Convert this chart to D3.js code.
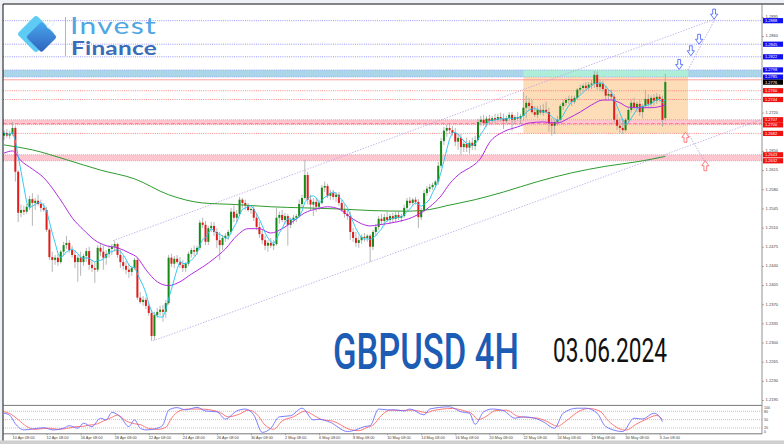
<!DOCTYPE html>
<html><head><meta charset="utf-8">
<script src="https://cdn.jsdelivr.net/npm/d3@7"></script>
<style>html,body{margin:0;padding:0;background:#fff;}svg{display:block;}</style>
</head><body>
<svg id="c" width="784" height="444"></svg>
<script>
// ---------- DATA (GBPUSD 4H) ----------
const opens = [
1.2678,1.2683,1.2678,1.2681,1.2692,1.2612,1.2537,1.2542,1.2539,1.2548,
1.2562,1.2555,1.2559,1.2553,1.2546,1.2542,1.2506,1.2456,1.2451,1.2455,
1.2447,1.2466,1.2478,1.2482,1.2469,1.2460,1.2447,1.2455,1.2447,1.2458,
1.2467,1.2442,1.2436,1.2433,1.2473,1.2466,1.2455,1.2462,1.2471,1.2475,
1.2480,1.2460,1.2447,1.2440,1.2433,1.2429,1.2436,1.2451,1.2382,1.2374,
1.2378,1.2367,1.2354,1.2312,1.2350,1.2356,1.2360,1.2356,1.2372,1.2455,
1.2444,1.2453,1.2447,1.2442,1.2436,1.2444,1.2462,1.2469,1.2466,1.2473,
1.2519,1.2515,1.2484,1.2509,1.2513,1.2502,1.2487,1.2478,1.2491,1.2495,
1.2502,1.2539,1.2528,1.2535,1.2561,1.2555,1.2550,1.2542,1.2544,1.2528,
1.2511,1.2498,1.2487,1.2477,1.2482,1.2477,1.2480,1.2528,1.2533,1.2524,
1.2531,1.2515,1.2524,1.2528,1.2531,1.2553,1.2564,1.2606,1.2561,1.2552,
1.2557,1.2548,1.2555,1.2583,1.2586,1.2568,1.2573,1.2566,1.2570,1.2555,
1.2542,1.2535,1.2531,1.2502,1.2491,1.2482,1.2487,1.2493,1.2491,1.2495,
1.2475,1.2502,1.2511,1.2526,1.2522,1.2529,1.2524,1.2531,1.2526,1.2533,
1.2528,1.2531,1.2546,1.2559,1.2555,1.2561,1.2557,1.2529,1.2542,1.2573,
1.2581,1.2584,1.2588,1.2594,1.2623,1.2668,1.2687,1.2692,1.2688,1.2683,
1.2667,1.2674,1.2657,1.2663,1.2656,1.2665,1.2659,1.2670,1.2703,1.2707,
1.2701,1.2709,1.2705,1.2710,1.2707,1.2712,1.2709,1.2705,1.2710,1.2716,
1.2707,1.2712,1.2709,1.2714,1.2729,1.2738,1.2732,1.2721,1.2716,1.2725,
1.2720,1.2725,1.2721,1.2700,1.2696,1.2703,1.2707,1.2732,1.2738,1.2743,
1.2745,1.2740,1.2747,1.2762,1.2765,1.2769,1.2765,1.2771,1.2773,1.2789,
1.2767,1.2773,1.2763,1.2751,1.2754,1.2749,1.2707,1.2696,1.2692,1.2688,
1.2707,1.2725,1.2738,1.2730,1.2736,1.2721,1.2732,1.2745,1.2736,1.2747,
1.2742,1.2749,1.2745,1.2710];
const highs = [
1.2688,1.2690,1.2687,1.2703,1.2696,1.2615,1.2552,1.2550,1.2553,1.2568,
1.2573,1.2564,1.2570,1.2561,1.2555,1.2548,1.2509,1.2466,1.2460,1.2462,
1.2469,1.2484,1.2495,1.2487,1.2477,1.2469,1.2460,1.2466,1.2462,1.2473,
1.2475,1.2451,1.2447,1.2478,1.2482,1.2477,1.2469,1.2477,1.2480,1.2486,
1.2482,1.2469,1.2458,1.2449,1.2444,1.2440,1.2455,1.2455,1.2392,1.2385,
1.2382,1.2372,1.2360,1.2356,1.2363,1.2367,1.2369,1.2378,1.2460,1.2462,
1.2458,1.2460,1.2456,1.2451,1.2447,1.2466,1.2473,1.2477,1.2477,1.2524,
1.2528,1.2522,1.2513,1.2520,1.2520,1.2509,1.2502,1.2497,1.2500,1.2506,
1.2546,1.2550,1.2542,1.2566,1.2564,1.2561,1.2555,1.2550,1.2550,1.2535,
1.2520,1.2506,1.2495,1.2487,1.2491,1.2487,1.2546,1.2539,1.2542,1.2537,
1.2535,1.2528,1.2533,1.2535,1.2561,1.2570,1.2634,1.2612,1.2570,1.2564,
1.2564,1.2561,1.2588,1.2594,1.2590,1.2579,1.2579,1.2575,1.2575,1.2561,
1.2552,1.2542,1.2539,1.2509,1.2502,1.2495,1.2498,1.2500,1.2498,1.2498,
1.2506,1.2517,1.2531,1.2535,1.2535,1.2539,1.2535,1.2537,1.2539,1.2539,
1.2535,1.2552,1.2564,1.2566,1.2564,1.2566,1.2562,1.2546,1.2579,1.2586,
1.2590,1.2592,1.2597,1.2630,1.2674,1.2694,1.2698,1.2700,1.2696,1.2692,
1.2681,1.2681,1.2670,1.2674,1.2670,1.2674,1.2678,1.2709,1.2714,1.2716,
1.2714,1.2716,1.2714,1.2718,1.2718,1.2720,1.2718,1.2714,1.2721,1.2721,
1.2716,1.2721,1.2718,1.2758,1.2751,1.2747,1.2743,1.2732,1.2732,1.2734,
1.2736,1.2740,1.2729,1.2710,1.2707,1.2714,1.2736,1.2743,1.2747,1.2751,
1.2751,1.2751,1.2765,1.2771,1.2773,1.2776,1.2776,1.2780,1.2796,1.2795,
1.2780,1.2778,1.2769,1.2762,1.2762,1.2754,1.2718,1.2710,1.2707,1.2710,
1.2729,1.2743,1.2747,1.2740,1.2743,1.2736,1.2762,1.2754,1.2752,1.2754,
1.2756,1.2754,1.2751,1.2791];
const lows = [
1.2670,1.2674,1.2672,1.2678,1.2594,1.2520,1.2529,1.2533,1.2535,1.2542,
1.2513,1.2542,1.2550,1.2539,1.2539,1.2502,1.2451,1.2429,1.2442,1.2440,
1.2444,1.2458,1.2471,1.2464,1.2455,1.2436,1.2411,1.2422,1.2440,1.2447,
1.2433,1.2429,1.2409,1.2429,1.2458,1.2433,1.2442,1.2455,1.2460,1.2466,
1.2455,1.2436,1.2433,1.2425,1.2418,1.2422,1.2433,1.2378,1.2371,1.2367,
1.2361,1.2349,1.2303,1.2305,1.2345,1.2349,1.2338,1.2345,1.2369,1.2438,
1.2436,1.2444,1.2436,1.2429,1.2429,1.2440,1.2455,1.2458,1.2460,1.2469,
1.2509,1.2478,1.2478,1.2502,1.2495,1.2473,1.2451,1.2469,1.2484,1.2487,
1.2498,1.2520,1.2520,1.2531,1.2546,1.2542,1.2539,1.2535,1.2522,1.2506,
1.2491,1.2480,1.2469,1.2466,1.2473,1.2469,1.2477,1.2517,1.2520,1.2517,
1.2477,1.2509,1.2517,1.2520,1.2528,1.2546,1.2561,1.2552,1.2542,1.2531,
1.2539,1.2542,1.2552,1.2575,1.2564,1.2561,1.2561,1.2557,1.2550,1.2539,
1.2528,1.2524,1.2487,1.2484,1.2475,1.2473,1.2480,1.2484,1.2484,1.2447,
1.2469,1.2495,1.2506,1.2517,1.2513,1.2520,1.2517,1.2520,1.2520,1.2524,
1.2520,1.2528,1.2542,1.2550,1.2550,1.2552,1.2509,1.2524,1.2539,1.2568,
1.2575,1.2579,1.2583,1.2588,1.2619,1.2661,1.2676,1.2681,1.2678,1.2659,
1.2652,1.2643,1.2648,1.2648,1.2645,1.2652,1.2652,1.2667,1.2696,1.2696,
1.2694,1.2698,1.2700,1.2701,1.2703,1.2703,1.2690,1.2700,1.2705,1.2687,
1.2700,1.2705,1.2700,1.2705,1.2710,1.2725,1.2718,1.2712,1.2710,1.2716,
1.2714,1.2718,1.2685,1.2678,1.2681,1.2696,1.2703,1.2725,1.2732,1.2736,
1.2732,1.2736,1.2743,1.2754,1.2758,1.2762,1.2760,1.2763,1.2765,1.2762,
1.2760,1.2758,1.2743,1.2743,1.2743,1.2700,1.2688,1.2683,1.2681,1.2685,
1.2703,1.2720,1.2725,1.2721,1.2714,1.2710,1.2729,1.2729,1.2729,1.2732,
1.2736,1.2740,1.2694,1.2705];
const closes = [
1.2683,1.2678,1.2681,1.2692,1.2612,1.2537,1.2542,1.2539,1.2548,1.2562,
1.2555,1.2559,1.2553,1.2546,1.2542,1.2506,1.2456,1.2451,1.2455,1.2447,
1.2466,1.2478,1.2482,1.2469,1.2460,1.2447,1.2455,1.2447,1.2458,1.2467,
1.2442,1.2436,1.2433,1.2473,1.2466,1.2455,1.2462,1.2471,1.2475,1.2480,
1.2460,1.2447,1.2440,1.2433,1.2429,1.2436,1.2451,1.2382,1.2374,1.2378,
1.2367,1.2354,1.2312,1.2350,1.2356,1.2360,1.2356,1.2372,1.2455,1.2444,
1.2453,1.2447,1.2442,1.2436,1.2444,1.2462,1.2469,1.2466,1.2473,1.2519,
1.2515,1.2484,1.2509,1.2513,1.2502,1.2487,1.2478,1.2491,1.2495,1.2502,
1.2539,1.2528,1.2535,1.2561,1.2555,1.2550,1.2542,1.2544,1.2528,1.2511,
1.2498,1.2487,1.2477,1.2482,1.2477,1.2480,1.2528,1.2533,1.2524,1.2531,
1.2515,1.2524,1.2528,1.2531,1.2553,1.2564,1.2606,1.2561,1.2552,1.2557,
1.2548,1.2555,1.2583,1.2586,1.2568,1.2573,1.2566,1.2570,1.2555,1.2542,
1.2535,1.2531,1.2502,1.2491,1.2482,1.2487,1.2493,1.2491,1.2495,1.2475,
1.2502,1.2511,1.2526,1.2522,1.2529,1.2524,1.2531,1.2526,1.2533,1.2528,
1.2531,1.2546,1.2559,1.2555,1.2561,1.2557,1.2529,1.2542,1.2573,1.2581,
1.2584,1.2588,1.2594,1.2623,1.2668,1.2687,1.2692,1.2688,1.2683,1.2667,
1.2674,1.2657,1.2663,1.2656,1.2665,1.2659,1.2670,1.2703,1.2707,1.2701,
1.2709,1.2705,1.2710,1.2707,1.2712,1.2709,1.2705,1.2710,1.2716,1.2707,
1.2712,1.2709,1.2714,1.2729,1.2738,1.2732,1.2721,1.2716,1.2725,1.2720,
1.2725,1.2721,1.2700,1.2696,1.2703,1.2707,1.2732,1.2738,1.2743,1.2745,
1.2740,1.2747,1.2762,1.2765,1.2769,1.2765,1.2771,1.2773,1.2789,1.2767,
1.2773,1.2763,1.2751,1.2754,1.2749,1.2707,1.2696,1.2692,1.2688,1.2707,
1.2725,1.2738,1.2730,1.2736,1.2721,1.2732,1.2745,1.2736,1.2747,1.2742,
1.2749,1.2745,1.2707,1.2776];

// slow moving average (purple) and 200 MA (green): [bar, price]
const maSlow = [[0,1.2646],[3,1.2650],[6,1.2632],[10,1.2617],[14,1.2601],[18,1.2575],[21,1.2552],[24,1.2528],[28,1.2506],[32,1.2487],[36,1.2477],[40,1.2473],[44,1.2464],[47,1.2455],[50,1.2433],[54,1.2411],[58,1.2404],[62,1.2411],[66,1.2425],[70,1.2438],[74,1.2453],[78,1.2471],[82,1.2495],[86,1.2508],[90,1.2508],[94,1.2500],[98,1.2508],[102,1.2522],[106,1.2537],[110,1.2544],[114,1.2548],[118,1.2544],[122,1.2529],[126,1.2517],[129,1.2513],[132,1.2515],[138,1.2520],[144,1.2529],[150,1.2548],[154,1.2568],[157,1.2590],[161,1.2610],[164,1.2619],[168,1.2637],[171,1.2665],[176,1.2685],[181,1.2694],[185,1.2701],[190,1.2703],[195,1.2701],[199,1.2710],[203,1.2721],[207,1.2734],[211,1.2743],[214,1.2743],[217,1.2738],[220,1.2730],[224,1.2729],[228,1.2729],[233,1.2734]];
const ma200 = [[0,1.2661],[10,1.2652],[22,1.2634],[34,1.2615],[46,1.2599],[58,1.2570],[70,1.2555],[82,1.2552],[94,1.2548],[106,1.2546],[118,1.2544],[130,1.2541],[142,1.2540],[150,1.2543],[156,1.2550],[166,1.2561],[176,1.2575],[188,1.2594],[200,1.2610],[212,1.2622],[224,1.2631],[233,1.2640]];

// stochastic: [bar, value]
const stochMain = [[0,73],[2,66],[4,35],[7,13],[10,16],[14,21],[15,19],[17,13],[21,19],[23,28],[26,19],[28,37],[31,25],[34,55],[36,49],[38,76],[41,60],[44,25],[46,49],[48,19],[50,13],[54,19],[56,31],[58,84],[61,93],[64,85],[68,94],[71,81],[75,78],[78,52],[82,81],[85,88],[88,67],[91,4],[94,19],[97,60],[101,64],[105,91],[109,49],[111,51],[115,40],[121,7],[124,13],[127,25],[129,28],[132,88],[135,85],[138,85],[141,81],[143,88],[148,67],[150,88],[157,96],[161,78],[164,73],[166,33],[169,78],[172,88],[176,82],[180,55],[183,60],[187,55],[190,42],[194,19],[197,73],[202,91],[205,91],[209,73],[212,25],[218,7],[222,55],[225,52],[229,73],[231,60],[232,42]];
const stochSignal = [[0,78],[2,72],[5,50],[8,25],[11,15],[14,18],[16,19],[19,15],[22,18],[25,24],[28,26],[30,30],[33,35],[35,45],[38,58],[40,66],[43,45],[46,35],[48,32],[51,18],[54,15],[57,22],[59,55],[62,82],[65,88],[69,88],[72,86],[76,76],[79,60],[83,70],[86,84],[89,70],[92,30],[95,15],[98,45],[102,60],[106,80],[110,60],[112,50],[116,44],[122,14],[125,10],[128,22],[130,30],[133,65],[136,84],[140,83],[144,84],[149,75],[151,82],[158,90],[162,82],[165,70],[167,50],[170,62],[173,82],[177,84],[181,62],[184,58],[188,55],[191,45],[195,26],[198,45],[203,82],[206,90],[210,80],[213,45],[219,12],[223,35],[226,50],[230,65],[232,50]];
const stochLevels = [80,50,20];
const stochLabels = [100,80,50,20,0];

// axis ticks (values hidden behind price tags in the reference are not listed)
const xTickBars = [3,15,27,39,51,63,75,87,99,111,123,135,147,159,171,183,195,207,219,231];
const xTickLabels = ["10 Apr 08:00","12 Apr 08:00","16 Apr 08:00","18 Apr 08:00","22 Apr 08:00","24 Apr 08:00","26 Apr 08:00","30 Apr 08:00","2 May 08:00","6 May 08:00","8 May 08:00","10 May 08:00","14 May 08:00","16 May 08:00","20 May 08:00","22 May 08:00","24 May 08:00","28 May 08:00","30 May 08:00","3 Jun 08:00"];
const priceTicks = [1.2895,1.2860,1.2720,1.2650,1.2615,1.2580,1.2545,1.2510,1.2475,1.2440,1.2405,1.2370,1.2335,1.2300,1.2265,1.2230,1.2195];

// drawn levels / objects
const blueLevels = [1.2888,1.2845,1.2822];
const blueBand = [1.2798,1.2785];
const redSolid = [1.2780];
const redDotted = [1.2760,1.2744,1.2682];
const pinkBands = [[1.2707,1.2698],[1.2643,1.2632]];
const redDashed = [1.2700];
const blueTags = [1.2888,1.2845,1.2822,1.2798,1.2785];
const redTags = [1.2760,1.2744,1.2707,1.2700,1.2682,1.2643,1.2632];
const bidTag = [1.2776];
const zoneBox = {from:183, to:241, top:1.2785, bottom:1.2682};
const channels = [[[38.4,1.2486],[250.5,1.2891]],[[52.5,1.2303],[267.1,1.2708]]];
const projections = [[[241,1.2798],[250.5,1.2891]],[[241,1.2682],[247,1.2630]]];
const downArrows = [[250.2,1.2900],[244.9,1.2854],[242,1.2833],[237.9,1.2808]];
const upArrows = [[240.1,1.2675],[247.1,1.2623]];
const logoWords = ["Invest","Finance"];
const titleText = "GBPUSD 4H";
const dateText = "03.06.2024";

// ---------- DRAWING ----------
const W=784,H=444;
const pL=3,pR=762,pT=4,pB=405.2,sT=405.7,sB=433.5;
const svg=d3.select("#c");
const x=d3.scaleLinear().domain([0,233]).range([4,665.3]);
const y=d3.scaleLinear().domain([1.2860,1.2195]).range([36,400]);
const ys=d3.scaleLinear().domain([0,100]).range([sB,sT]);
const defs=svg.append("defs");
defs.append("clipPath").attr("id","pp").append("rect").attr("x",pL).attr("y",pT).attr("width",pR-pL).attr("height",pB-pT);
defs.append("clipPath").attr("id","sp").append("rect").attr("x",pL).attr("y",sT).attr("width",pR-pL).attr("height",sB-sT);

svg.append("rect").attr("width",W).attr("height",H).attr("fill","#eef1f5");
svg.append("rect").attr("x",pL).attr("y",pT).attr("width",W-pL).attr("height",440.5-pT).attr("fill","#fff");
svg.append("rect").attr("x",0).attr("y",440.5).attr("width",W).attr("height",H-440.5).attr("fill","#cfcfcf");

const g=svg.append("g").attr("clip-path","url(#pp)");
const hline=(p,col,dash,w)=>g.append("line").attr("x1",pL).attr("x2",pR).attr("y1",y(p)).attr("y2",y(p)).attr("stroke",col).attr("stroke-width",w).attr("stroke-dasharray",dash);

// bands and zone
g.append("rect").attr("x",pL).attr("width",pR-pL).attr("y",y(blueBand[0])).attr("height",y(blueBand[1])-y(blueBand[0])).attr("fill","#abd6ea");
g.append("rect").attr("x",x(zoneBox.from)).attr("width",x(zoneBox.to)-x(zoneBox.from)).attr("y",y(blueBand[0])).attr("height",y(blueBand[1])-y(blueBand[0])).attr("fill","#aeeed8");
g.append("rect").attr("x",x(zoneBox.from)).attr("width",x(zoneBox.to)-x(zoneBox.from)).attr("y",y(zoneBox.top)).attr("height",y(zoneBox.bottom)-y(zoneBox.top)).attr("fill","#fddcb8");
pinkBands.forEach(b=>{
  g.append("rect").attr("x",pL).attr("width",pR-pL).attr("y",y(b[0])).attr("height",y(b[1])-y(b[0])).attr("fill","#ffc6cf");
  hline(b[0],"#ff7d8d","1,1",0.7); hline(b[1],"#ff7d8d","1,1",0.7);
});
blueLevels.forEach(p=>hline(p,"#7a7aff","1,1.2",0.8));
blueBand.forEach(p=>hline(p,"#8a8aff","1,1.2",0.6));
redSolid.forEach(p=>hline(p,"#ff9494","none",0.9));
redDotted.forEach(p=>hline(p,"#ff6b6b","1,1.2",0.8));
redDashed.forEach(p=>hline(p,"#ff6f80","4,2",0.8));

// channel & projection lines
const seg=d3.line().x(d=>x(d[0])).y(d=>y(d[1]));
channels.forEach(c=>g.append("path").attr("d",seg(c)).attr("fill","none").attr("stroke","#b8a0e6").attr("stroke-width",0.8).attr("stroke-dasharray","1.4,1.4"));
projections.forEach(c=>g.append("path").attr("d",seg(c)).attr("fill","none").attr("stroke","#a898d8").attr("stroke-width",0.8).attr("stroke-dasharray","1.4,1.4"));

// candles
const idx=d3.range(closes.length);
const cg=g.append("g");
cg.selectAll("line.w").data(idx).join("line").attr("class","w")
  .attr("x1",i=>x(i)).attr("x2",i=>x(i)).attr("y1",i=>y(highs[i])).attr("y2",i=>y(lows[i]))
  .attr("stroke","#a3a3a3").attr("stroke-width",0.8);
cg.selectAll("rect.b").data(idx).join("rect").attr("class","b")
  .attr("x",i=>x(i)-1).attr("width",2)
  .attr("y",i=>y(Math.max(opens[i],closes[i])))
  .attr("height",i=>Math.max(0.7,Math.abs(y(opens[i])-y(closes[i]))))
  .attr("fill",i=>closes[i]>=opens[i]?"#168a16":"#e11c1c");

// moving averages
const maFast=closes.map((c,i)=>d3.mean(closes.slice(Math.max(0,i-4),i+1)));
const mline=d3.line().x(d=>x(d[0])).y(d=>y(d[1])).curve(d3.curveMonotoneX);
g.append("path").attr("d",mline(ma200)).attr("fill","none").attr("stroke","#2e9a2e").attr("stroke-width",1);
g.append("path").attr("d",mline(maSlow)).attr("fill","none").attr("stroke","#b02be0").attr("stroke-width",1);
g.append("path").attr("d",d3.line().x((d,i)=>x(i)).y(d=>y(d))(maFast)).attr("fill","none").attr("stroke","#22c3f2").attr("stroke-width",0.9);

// arrows
const downPath=(cx,cy)=>`M${cx-1.4},${cy-5}L${cx+1.4},${cy-5}L${cx+1.4},${cy}L${cx+3.6},${cy}L${cx},${cy+5}L${cx-3.6},${cy}L${cx-1.4},${cy}Z`;
const upPath=(cx,cy)=>`M${cx-1.4},${cy+5}L${cx+1.4},${cy+5}L${cx+1.4},${cy}L${cx+3.6},${cy}L${cx},${cy-5}L${cx-3.6},${cy}L${cx-1.4},${cy}Z`;
downArrows.forEach(a=>g.append("path").attr("d",downPath(x(a[0]),y(a[1]))).attr("fill","#fff").attr("stroke","#3f5bff").attr("stroke-width",0.8));
upArrows.forEach(a=>g.append("path").attr("d",upPath(x(a[0]),y(a[1]))).attr("fill","#fff").attr("stroke","#ff5c5c").attr("stroke-width",0.8));

// stochastic pane
const sg=svg.append("g").attr("clip-path","url(#sp)");
stochLevels.forEach(v=>sg.append("line").attr("x1",pL).attr("x2",pR).attr("y1",ys(v)).attr("y2",ys(v)).attr("stroke","#9a9a9a").attr("stroke-width",0.6).attr("stroke-dasharray","1,1"));
const sline=d3.line().x(d=>x(d[0])).y(d=>ys(d[1])).curve(d3.curveMonotoneX);
sg.append("path").attr("d",sline(stochSignal)).attr("fill","none").attr("stroke","#ff6a6a").attr("stroke-width",0.9);
sg.append("path").attr("d",sline(stochMain)).attr("fill","none").attr("stroke","#6f6fff").attr("stroke-width",0.9);

// frame lines
svg.append("line").attr("x1",pL).attr("x2",W).attr("y1",pT).attr("y2",pT).attr("stroke","#111").attr("stroke-width",1);
svg.append("line").attr("x1",pL).attr("x2",pL).attr("y1",pT).attr("y2",440.5).attr("stroke","#111").attr("stroke-width",1);
svg.append("line").attr("x1",pL).attr("x2",pR).attr("y1",405.4).attr("y2",405.4).attr("stroke","#555").attr("stroke-width",0.8);
svg.append("line").attr("x1",pL).attr("x2",pR).attr("y1",433.8).attr("y2",433.8).attr("stroke","#555").attr("stroke-width",0.8);
svg.append("line").attr("x1",pR).attr("x2",pR).attr("y1",pT).attr("y2",434).attr("stroke","#777").attr("stroke-width",0.8);

// axes
const fs="'Liberation Sans',Arial,sans-serif";
const ay=svg.append("g").attr("transform",`translate(${pR},0)`)
  .call(d3.axisRight(y).tickValues(priceTicks).tickSize(2).tickPadding(1.5).tickFormat(d3.format(".4f")));
ay.select(".domain").remove();
ay.selectAll("text").attr("font-size",4.1).attr("font-family",fs).attr("fill","#444").attr("dy","0.2em");
ay.selectAll("line").attr("stroke","#666").attr("stroke-width",0.5);
const ax=svg.append("g").attr("transform",`translate(0,${sB+0.3})`)
  .call(d3.axisBottom(x).tickValues(xTickBars).tickSize(1.5).tickPadding(1).tickFormat((d,i)=>xTickLabels[i]));
ax.select(".domain").remove();
ax.selectAll("text").attr("font-size",3.9).attr("font-family",fs).attr("fill","#444").attr("text-anchor","start").attr("dx",-0.5);
ax.selectAll("line").attr("stroke","#666").attr("stroke-width",0.5);
const soff={100:2.9,80:2.0,50:1.4,20:0.9,0:-0.6};
svg.selectAll("text.sl").data(stochLabels).join("text").attr("class","sl")
  .attr("x",pR+2).attr("y",v=>ys(v)+soff[v]).text(v=>v)
  .attr("font-size",3.6).attr("font-family",fs).attr("fill","#444");

// price tags (nudged apart a little where they would collide)
const tags=[...blueTags.map(p=>({p,c:"#1010f0"})),...redTags.map(p=>({p,c:"#f01010"})),...bidTag.map(p=>({p,c:"#000"}))]
  .map(t=>({...t,cy:y(t.p)})).sort((a,b)=>a.cy-b.cy);
for(let k=1;k<tags.length;k++){ if(tags[k].cy-tags[k-1].cy<5.1) tags[k].cy=tags[k-1].cy+5.1; }
tags.forEach(t=>{
  svg.append("rect").attr("x",pR+1).attr("y",t.cy-2.6).attr("width",20).attr("height",5.2).attr("fill",t.c);
  svg.append("text").attr("x",pR+3).attr("y",t.cy+1.4).text(t.p.toFixed(4)).attr("font-size",4.0).attr("font-family",fs).attr("fill","#fff");
});

// text squeezed horizontally to a target width
function measure(str,attrs){
  const t=svg.append("text").text(str); Object.entries(attrs).forEach(([k,v])=>t.attr(k,v));
  const w=t.node().getComputedTextLength(); t.remove(); return w;
}
function fitText(parent,str,x0,y0,width,attrs){
  const t=parent.append("text").attr("x",0).attr("y",0).text(str);
  Object.entries(attrs).forEach(([k,v])=>t.attr(k,v));
  const w=t.node().getComputedTextLength();
  t.attr("transform",`translate(${x0},${y0}) scale(${width/w},1)`);
  return t;
}

// logo
const lgr=defs.append("linearGradient").attr("id","lgB").attr("x1","0").attr("y1","0").attr("x2","1").attr("y2","1");
lgr.append("stop").attr("offset","0").attr("stop-color","#4aa8ee");
lgr.append("stop").attr("offset","1").attr("stop-color","#2d62bd");
const lg=svg.append("g");
lg.append("rect").attr("x",-13.5).attr("y",-13.5).attr("width",27).attr("height",27).attr("rx",3).attr("transform","translate(36,34) rotate(45)").attr("fill","#5ecbf4");
lg.append("rect").attr("x",-11).attr("y",-11).attr("width",22).attr("height",22).attr("rx",2.5).attr("transform","translate(41.5,37) rotate(45)").attr("fill","url(#lgB)");
lg.append("rect").attr("x",-2).attr("y",-4).attr("width",4).attr("height",8).attr("rx",2).attr("transform","translate(50.5,24.5) rotate(45)").attr("fill","none").attr("stroke","#e8f4ff").attr("stroke-width",1.1);
lg.append("line").attr("x1",65.5).attr("x2",65.5).attr("y1",17).attr("y2",56).attr("stroke","#6fb0e6").attr("stroke-width",0.8);
// the two logo words as one text block (two lines)
const lf="Lato,'Open Sans',sans-serif", sx=1.25;
const a1={"font-family":lf,"font-size":24}, a2={"font-family":lf,"font-size":19.5,"font-weight":700};
const w1=measure(logoWords[0],a1), w2=measure(logoWords[1],a2);
const ls1=(87/sx-w1)/logoWords[0].length, ls2=(86/sx-w2)/logoWords[1].length;
const lt=lg.append("text").attr("transform",`translate(70,0) scale(${sx},1)`).attr("font-family",lf);
lt.append("tspan").attr("x",0).attr("y",34.5).attr("font-size",24).attr("letter-spacing",ls1).attr("fill","#4ea6e2").text(logoWords[0]);
lt.append("tspan").attr("x",1/sx).attr("y",55.5).attr("font-size",19.5).attr("font-weight",700).attr("letter-spacing",ls2).attr("fill","#3a6db7").text(logoWords[1]);

// title & date
fitText(svg,titleText,333,369,186,{"font-family":"Roboto,sans-serif","font-weight":500,"font-size":50,"fill":"#1d5cb4"});
fitText(svg,dateText,553,362,114,{"font-family":"Roboto,sans-serif","font-weight":400,"font-size":34,"fill":"#111"});
</script>
</body></html>
